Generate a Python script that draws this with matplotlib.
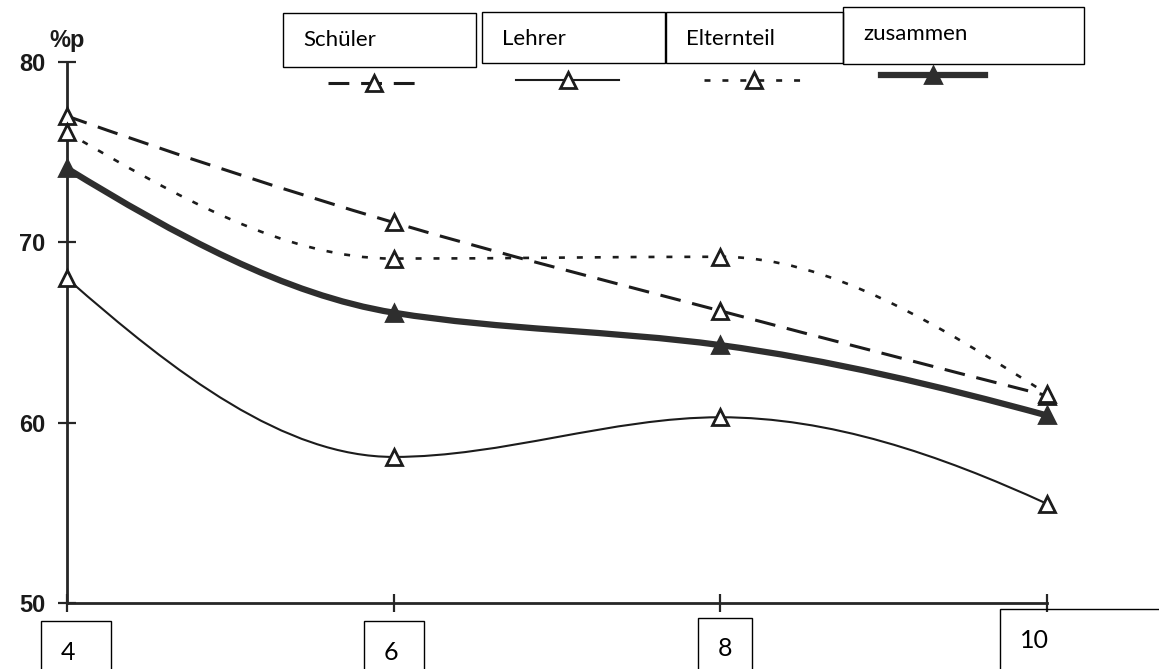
import numpy as np
import matplotlib
matplotlib.use('Agg')
import matplotlib.pyplot as plt
from matplotlib.path import Path
from matplotlib.patches import PathPatch, Rectangle
from matplotlib.lines import Line2D

plt.rcParams['lines.scale_dashes'] = False

# values
klassen = [4, 6, 8, 10]
schueler = [77.0, 71.1, 66.2, 61.5]
lehrer = [68.0, 58.1, 60.3, 55.5]
eltern = [76.1, 69.1, 69.2, 61.6]
zusammen = [74.1, 66.1, 64.3, 60.4]
namen = ['Schüler', 'Lehrer', 'Elternteil', 'zusammen']
y_ticks = [50, 60, 70, 80]
x_labels = ['4', '6', '8', '10']

W, H = 1159, 669
ink = '#1c1c1c'


def pchip_slopes(x, y):
    x = np.asarray(x, float)
    y = np.asarray(y, float)
    h = np.diff(x)
    d = np.diff(y) / h
    m = np.zeros_like(y)
    for i in range(1, len(y) - 1):
        if d[i - 1] * d[i] > 0:
            w1 = 2 * h[i] + h[i - 1]
            w2 = h[i] + 2 * h[i - 1]
            m[i] = (w1 + w2) / (w1 / d[i - 1] + w2 / d[i])

    def end(h0, h1, d0, d1):
        s = ((2 * h0 + h1) * d0 - h0 * d1) / (h0 + h1)
        if np.sign(s) != np.sign(d0):
            s = 0.0
        elif np.sign(d0) != np.sign(d1) and abs(s) > 3 * abs(d0):
            s = 3 * d0
        return s

    m[0] = end(h[0], h[1], d[0], d[1])
    m[-1] = end(h[-1], h[-2], d[-1], d[-2])
    return m


def smooth_path(x, y):
    # smooth curve through the points as cubic bezier segments
    m = pchip_slopes(x, y)
    verts = [(x[0], y[0])]
    codes = [Path.MOVETO]
    for i in range(len(x) - 1):
        t = (x[i + 1] - x[i]) / 3
        verts += [(x[i] + t, y[i] + m[i] * t),
                  (x[i + 1] - t, y[i + 1] - m[i + 1] * t),
                  (x[i + 1], y[i + 1])]
        codes += [Path.CURVE4] * 3
    return Path(verts, codes)


fig = plt.figure(figsize=(W / 100, H / 100), dpi=100)
fig.patch.set_facecolor('white')
ax = fig.add_axes([67 / W, 1 - 603 / H, (1047 - 67) / W, (603 - 62) / H])

series = [schueler, lehrer, eltern, zusammen]
styles = [
    dict(ls=(0, (15, 8.5)), lw=2.2, color=ink, mfc='white'),
    dict(ls='-', lw=1.5, color=ink, mfc='white'),
    dict(ls=(0, (4.3, 8.6)), lw=1.9, color=ink, mfc='white'),
    dict(ls='-', lw=4.5, color='#2e2e2e', mfc='#2e2e2e'),
]

for vals, st in zip(series, styles):
    ax.add_patch(PathPatch(smooth_path(klassen, vals), fill=False,
                           edgecolor=st['color'], lw=st['lw'],
                           linestyle=st['ls'], zorder=3, clip_on=False))
    ax.plot(klassen, vals, ls='none', marker='^', ms=12, mew=2,
            mec=st['color'], mfc=st['mfc'], zorder=5, clip_on=False)

ax.set_xlim(4, 10)
ax.set_ylim(50, 80)
for s in ['top', 'right']:
    ax.spines[s].set_visible(False)
for s in ['left', 'bottom']:
    ax.spines[s].set_linewidth(2)
    ax.spines[s].set_color('#262626')

ax.set_yticks(y_ticks)
ax.set_xticks(klassen)
ax.tick_params(axis='both', direction='inout', length=13, width=1.6,
               color='#262626')
ax.tick_params(axis='x', labelbottom=False)
ax.tick_params(axis='y', pad=9, labelsize=17, labelcolor='#1a1a1a')
for lab in ax.get_yticklabels():
    lab.set_fontweight('bold')
    lab.set_family('Liberation Sans')

ax.annotate('%p', xy=(0, 1), xycoords='axes fraction', xytext=(0, 21),
            textcoords='offset pixels', ha='center', va='center',
            fontsize=17, fontweight='bold', family='Liberation Sans',
            color='#1a1a1a')


def box(x0, y0, x1, y1, text, size, dy):
    fig.add_artist(Rectangle((x0 / W, 1 - y1 / H), (x1 - x0) / W, (y1 - y0) / H,
                             transform=fig.transFigure, fill=False,
                             lw=1.0, ec='black'))
    fig.text((x0 + 20) / W, 1 - (y0 + dy) / H, text, ha='left', va='center',
             fontsize=size, family='Lato', color='black')


# legend boxes on top
legend_boxes = [(283, 13, 476, 67), (482, 12, 665, 63),
                (666, 12, 843, 63), (843, 7, 1084, 64)]
for (x0, y0, x1, y1), name in zip(legend_boxes, namen):
    box(x0, y0, x1, y1, name, 16, 27)

# legend keys below the boxes
keys = [(328, 420, 83), (516, 619, 80), (704, 803, 80), (881, 985, 75)]
for (x0, x1, yk), st in zip(keys, styles):
    xm = (x0 + x1) / 2
    fig.add_artist(Line2D([x0 / W, xm / W, x1 / W], [1 - yk / H] * 3,
                          transform=fig.transFigure, color=st['color'],
                          lw=st['lw'], ls=st['ls'], marker='^', ms=11, mew=2,
                          mec=st['color'], mfc=st['mfc'], markevery=[1]))

# boxed class labels under the x axis
label_boxes = [(41, 621, 111, 675), (364, 621, 424, 675),
               (698, 618, 752, 675), (1000, 609, 1170, 675)]
for (x0, y0, x1, y1), lab in zip(label_boxes, x_labels):
    box(x0, y0, x1, y1, lab, 18, 31)

fig.savefig('out.png', dpi=100, facecolor='white')
